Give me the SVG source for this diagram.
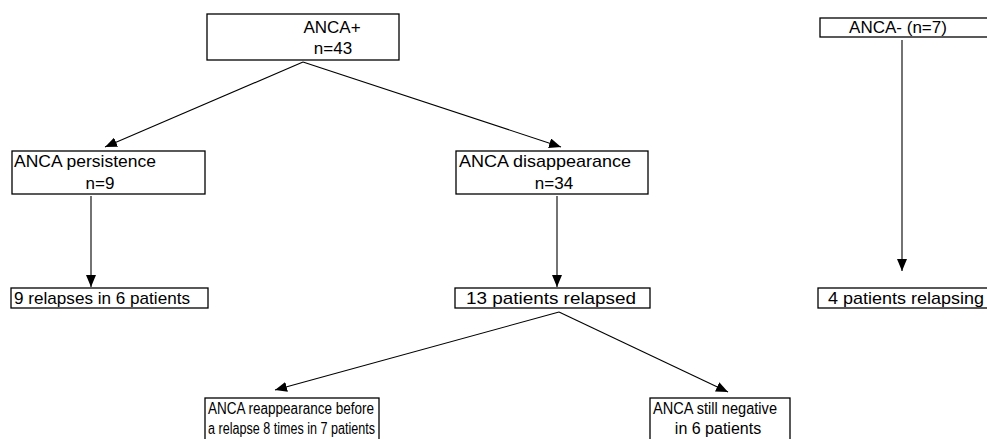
<svg xmlns="http://www.w3.org/2000/svg" width="987" height="439" viewBox="0 0 987 439">
<style>
.box{fill:#fff;stroke:#000;stroke-width:1.3}
.t{font-family:"Liberation Sans",Arial,sans-serif;font-size:17px;fill:#000}
.s{font-size:16px}
.m{text-anchor:middle}
.c{stroke:#000;stroke-width:1.1;fill:none}
</style>
<defs>
<marker id="ah" viewBox="0 0 12 10" refX="12" refY="5" markerWidth="12" markerHeight="10" markerUnits="userSpaceOnUse" orient="auto">
<path d="M0,0 L12,5 L0,10 Z" fill="#000"/>
</marker>
</defs>
<rect width="987" height="439" fill="#fff"/>
<g id="connectors">
<line class="c" x1="303" y1="62" x2="105" y2="147" marker-end="url(#ah)"/>
<line class="c" x1="303" y1="62" x2="561" y2="147" marker-end="url(#ah)"/>
<line class="c" x1="91" y1="196" x2="91" y2="287" marker-end="url(#ah)"/>
<line class="c" x1="557" y1="196" x2="557" y2="287" marker-end="url(#ah)"/>
<line class="c" x1="559" y1="312" x2="275" y2="390" marker-end="url(#ah)"/>
<line class="c" x1="559" y1="312" x2="728" y2="392" marker-end="url(#ah)"/>
<line class="c" x1="902" y1="40" x2="902" y2="271" marker-end="url(#ah)"/>
</g>
<g id="anca-pos">
<rect class="box" x="207" y="14" width="192" height="46"/>
<text class="t m" x="332" y="33">ANCA+</text>
<text class="t m" x="333" y="54">n=43</text>
</g>
<g id="anca-neg">
<rect class="box" x="820" y="18" width="170" height="19"/>
<text class="t m" x="898" y="33">ANCA- (n=7)</text>
</g>
<g id="persistence">
<rect class="box" x="12" y="151" width="193" height="43"/>
<text class="t" x="14" y="167" textLength="142" lengthAdjust="spacingAndGlyphs">ANCA persistence</text>
<text class="t m" x="100" y="189">n=9</text>
</g>
<g id="disappearance">
<rect class="box" x="456" y="151" width="192" height="43"/>
<text class="t" x="459" y="167" textLength="172" lengthAdjust="spacingAndGlyphs">ANCA disappearance</text>
<text class="t m" x="554" y="189">n=34</text>
</g>
<g id="relapses9">
<rect class="box" x="11" y="288" width="197" height="20"/>
<text class="t" x="14" y="304" textLength="176" lengthAdjust="spacingAndGlyphs">9 relapses in 6 patients</text>
</g>
<g id="relapsed13">
<rect class="box" x="455" y="288" width="195" height="20"/>
<text class="t" x="466" y="304" textLength="170" lengthAdjust="spacingAndGlyphs">13 patients relapsed</text>
</g>
<g id="relapsing4">
<rect class="box" x="818" y="288" width="172" height="20"/>
<text class="t" x="828" y="304" textLength="156" lengthAdjust="spacingAndGlyphs">4 patients relapsing</text>
</g>
<g id="reappearance">
<rect class="box" x="205" y="398" width="174" height="45"/>
<text class="t s" x="208" y="414" textLength="166" lengthAdjust="spacingAndGlyphs">ANCA reappearance before</text>
<text class="t s" x="208" y="434" textLength="167" lengthAdjust="spacingAndGlyphs">a relapse 8 times in 7 patients</text>
</g>
<g id="still-negative">
<rect class="box" x="650" y="398" width="140" height="45"/>
<text class="t s" x="653" y="414" textLength="124" lengthAdjust="spacingAndGlyphs">ANCA still negative</text>
<text class="t s m" x="718" y="434">in 6 patients</text>
</g>
</svg>
